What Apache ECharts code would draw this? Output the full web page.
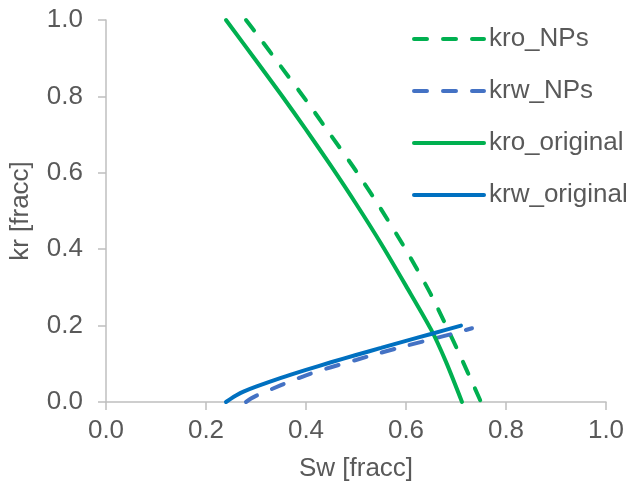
<!DOCTYPE html>
<html>
<head>
<meta charset="utf-8">
<script src="https://cdn.jsdelivr.net/npm/echarts@6/dist/echarts.min.js"></script>
<style>html,body{margin:0;padding:0;background:#fff;}#c{width:632px;height:487px;}</style>
</head>
<body>
<div id="c"></div>
<script>
var seriesNames = ['kro_NPs', 'krw_NPs', 'kro_original', 'krw_original'];
var axisTicks = [0, 0.2, 0.4, 0.6, 0.8, 1.0];

var kroNPs = [[0.28,1.0],[0.30,0.966],[0.35,0.878],[0.40,0.79],[0.45,0.698],[0.50,0.605],[0.55,0.505],[0.60,0.398],[0.65,0.281],[0.70,0.145],[0.75,0.0]];
var krwNPs = [[0.28,0.0],[0.29,0.009],[0.30,0.016],[0.35,0.044],[0.40,0.07],[0.45,0.091],[0.50,0.11],[0.55,0.129],[0.60,0.147],[0.65,0.164],[0.70,0.181],[0.732,0.193]];
var kroOrig = [[0.24,1.0],[0.30,0.894],[0.35,0.805],[0.40,0.713],[0.45,0.618],[0.50,0.519],[0.55,0.415],[0.60,0.304],[0.65,0.19],[0.68,0.105],[0.712,0.0]];
var krwOrig = [[0.24,0.0],[0.25,0.009],[0.26,0.017],[0.275,0.027],[0.30,0.04],[0.35,0.063],[0.40,0.084],[0.45,0.104],[0.50,0.123],[0.55,0.1415],[0.60,0.16],[0.65,0.178],[0.71,0.2]];

var green = '#00B050', blueDash = '#4472C4', blue = '#0070C0';
var txt = '#595959', axc = '#BFBFBF';
var FONT = 'Liberation Sans, Arial, sans-serif';

function axis(name, isX) {
  return {
    type: 'value', min: 0, max: 1, interval: 0.2,
    name: name, nameLocation: 'middle', nameGap: isX ? 54 : 72,
    nameTextStyle: {color: txt, fontSize: 26, fontFamily: FONT},
    axisLine: {show: true, onZero: false, lineStyle: {color: axc, width: 1.5}},
    axisTick: {show: true, inside: false, length: 8, lineStyle: {color: axc, width: 1.5}},
    splitLine: {show: false},
    axisLabel: {color: txt, fontSize: 26, fontFamily: FONT, margin: isX ? 16 : 23,
      formatter: function (v) { return v.toFixed(1); }}
  };
}

function line(name, data, color, dashed) {
  return {
    name: name, type: 'line', data: data, symbol: 'none', smooth: 0.25,
    lineStyle: {color: color, width: 4, type: dashed ? [13, 16] : 'solid', cap: 'round'},
    itemStyle: {color: color}, clip: false
  };
}

var chart = echarts.init(document.getElementById('c'), null, {renderer: 'canvas'});
chart.setOption({
  animation: false,
  backgroundColor: '#ffffff',
  grid: {left: 106, right: 26, top: 20, bottom: 85, containLabel: false},
  xAxis: axis('Sw [fracc]', true),
  yAxis: axis('kr [fracc]', false),
  legend: {
    orient: 'vertical', left: 407, top: 21, itemWidth: 70, itemHeight: 14, itemGap: 26,
    data: seriesNames,
    itemStyle: {opacity: 0},
    lineStyle: {width: 4},
    textStyle: {color: txt, fontSize: 26, fontFamily: FONT, lineHeight: 26}
  },
  series: [
    line(seriesNames[0], kroNPs, green, true),
    line(seriesNames[1], krwNPs, blueDash, true),
    line(seriesNames[2], kroOrig, green, false),
    line(seriesNames[3], krwOrig, blue, false)
  ]
});
</script>
</body>
</html>
